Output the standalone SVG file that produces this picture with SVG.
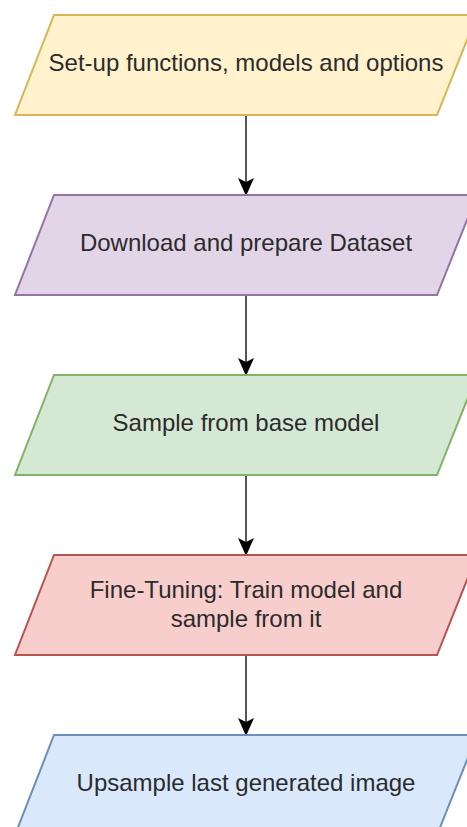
<svg xmlns="http://www.w3.org/2000/svg" width="467" height="827" viewBox="0 0 467 827">
  <style>
    .lbl { font-family: "Liberation Sans", Arial, sans-serif; font-size: 24px; fill: #2b2b2b; text-anchor: middle; }
    .edge { stroke: #555; stroke-width: 2; fill: none; marker-end: url(#arrow); }
    .shape { stroke-width: 2; }
  </style>
  <defs>
    <marker id="arrow" viewBox="0 0 18 16" refX="17" refY="8" markerWidth="18" markerHeight="16" markerUnits="userSpaceOnUse" orient="auto">
      <path d="M0,0 L18,8 L0,16 L4,8 Z" fill="#000"/>
    </marker>
  </defs>

  <!-- flow connectors -->
  <g id="connectors">
    <path class="edge" d="M246,115 V195"/>
    <path class="edge" d="M246,295 V375"/>
    <path class="edge" d="M246,475 V555"/>
    <path class="edge" d="M246,655 V735"/>
  </g>

  <g id="setup">
    <path class="shape" d="M54,15 H477 L437,115 H15 Z" fill="#fff2cc" stroke="#d6b656"/>
    <text class="lbl" x="246" y="71">Set-up functions, models and options</text>
  </g>

  <g id="dataset">
    <path class="shape" d="M54,195 H477 L437,295 H15 Z" fill="#e1d5e7" stroke="#9673a6"/>
    <text class="lbl" x="246" y="251">Download and prepare Dataset</text>
  </g>

  <g id="base-sample">
    <path class="shape" d="M54,375 H477 L437,475 H15 Z" fill="#d5e8d4" stroke="#82b366"/>
    <text class="lbl" x="246" y="431">Sample from base model</text>
  </g>

  <g id="finetune">
    <path class="shape" d="M54,555 H477 L437,655 H15 Z" fill="#f8cecc" stroke="#b85450"/>
    <text class="lbl" x="246" y="598">Fine-Tuning: Train model and</text>
    <text class="lbl" x="246" y="627">sample from it</text>
  </g>

  <g id="upsample">
    <path class="shape" d="M54,735 H477 L437,835 H15 Z" fill="#dae8fc" stroke="#6c8ebf"/>
    <text class="lbl" x="246" y="791">Upsample last generated image</text>
  </g>
</svg>
